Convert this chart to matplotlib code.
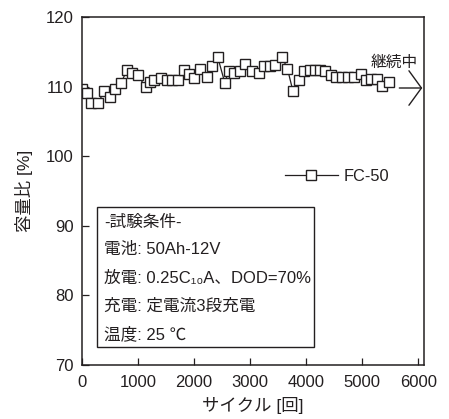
import matplotlib
matplotlib.use('Agg')
import matplotlib.pyplot as plt
from matplotlib.patches import Rectangle

plt.rcParams['font.family'] = ['Liberation Sans', 'Noto Sans CJK JP', 'DejaVu Sans']

# FC-50 capacity ratio vs. cycle count
cycles = [0, 94, 165, 289, 395, 501, 590, 696, 802, 897,
          997, 1133, 1209, 1292, 1404, 1510, 1605, 1705, 1811, 1900,
          2006, 2106, 2224, 2313, 2419, 2549, 2614, 2714, 2814, 2915,
          3027, 3150, 3245, 3345, 3451, 3563, 3664, 3764, 3864, 3959,
          4060, 4150, 4240, 4330, 4442, 4537, 4643, 4743, 4850, 4973,
          5068, 5163, 5257, 5357, 5474]
capacity = [109.6, 109.1, 107.7, 107.7, 109.3, 108.5, 109.7, 110.5, 112.4, 112.0,
            111.7, 109.9, 110.6, 111.0, 111.3, 111.0, 111.0, 111.0, 112.4, 111.8,
            111.3, 112.6, 111.4, 112.9, 114.3, 110.5, 112.3, 111.9, 112.3, 113.2,
            112.3, 111.9, 112.9, 112.9, 113.1, 114.3, 112.6, 109.3, 111.0, 112.3,
            112.4, 112.4, 112.4, 112.2, 111.6, 111.4, 111.4, 111.4, 111.4, 111.8,
            110.9, 111.1, 111.1, 110.1, 110.7]
series_name = 'FC-50'

conditions = ['-試験条件-',
              '電池: 50Ah-12V',
              '放電: 0.25C₁₀A、DOD=70%',
              '充電: 定電流3段充電',
              '温度: 25 ℃']

ink = '#231f20'

fig = plt.figure(figsize=(4.49, 4.19), dpi=100)
ax = fig.add_axes([0.1826, 0.1289, 0.7617, 0.8305])

ax.plot(cycles, capacity, color=ink, lw=0.9, marker='s', ms=6.8,
        mfc='white', mec=ink, mew=1.0, label=series_name)

ax.set_xlim(0, 6100)
ax.set_ylim(70, 120)
ax.set_xticks(range(0, 6001, 1000))
ax.set_yticks(range(70, 121, 10))
ax.tick_params(direction='in', length=5, width=0.9, color=ink,
               labelsize=12, labelcolor=ink)
ax.tick_params(axis='x', pad=7)
ax.tick_params(axis='y', pad=6)
for s in ax.spines.values():
    s.set_color(ink)
    s.set_linewidth(1.1)

ax.set_xlabel('サイクル [回]', fontsize=12.5, color=ink, labelpad=5)
ax.set_ylabel('容量比 [%]', fontsize=12.5, color=ink, labelpad=9)

leg = ax.legend(loc='center left', bbox_to_anchor=(0.594, 0.543), frameon=False,
                borderpad=0, borderaxespad=0, handlelength=3.2,
                handletextpad=0.35, fontsize=11.8)
for t in leg.get_texts():
    t.set_color(ink)

# still running
ax.annotate('', xy=(6070, 109.8), xytext=(5660, 109.8),
            arrowprops=dict(arrowstyle='->, head_length=0.45, head_width=0.62',
                            color=ink, lw=1.0, mutation_scale=20,
                            shrinkA=0, shrinkB=0))
ax.text(5560, 113.5, '継続中', ha='center', va='center', fontsize=11.3,
        color=ink)

# test conditions box
ax.add_patch(Rectangle((0.044, 0.052), 0.634, 0.402, transform=ax.transAxes,
                       fill=False, ec=ink, lw=1.0))
for i, line in enumerate(conditions):
    ax.text(0.064, 0.411 - i * 0.0805, line, transform=ax.transAxes,
            ha='left', va='center', fontsize=12, color=ink)

fig.savefig('out.png', dpi=100)
